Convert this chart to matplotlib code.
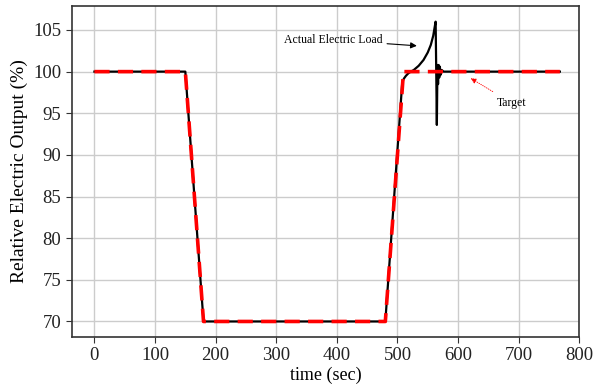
import matplotlib
matplotlib.use("Agg")
from matplotlib import pyplot as plt

# target setpoint (sec, %)
target_t = [0, 150, 180, 480, 510, 768]
target_v = [100, 100, 70, 70, 100, 100]

# actual electric load
load_t = [0, 150, 180, 480, 508, 511, 514, 518, 522, 527, 535, 543, 550, 555,
          559, 562, 563, 564, 565, 566, 567, 568, 569, 570, 571, 573, 576, 580, 768]
load_v = [100, 100, 70, 70, 98.8, 99.2, 99.5, 99.8, 100.0, 100.2, 100.7, 101.4,
          102.3, 103.2, 104.3, 105.6, 106.0, 100.0, 93.6, 100.8, 98.5, 100.8,
          99.3, 100.6, 99.6, 100.2, 100.0, 100.0, 100]

xticks = [0, 100, 200, 300, 400, 500, 600, 700, 800]
yticks = [70, 75, 80, 85, 90, 95, 100, 105]

plt.rcParams['font.family'] = ['Liberation Serif', 'DejaVu Serif']

fig = plt.figure(figsize=(5.94, 3.89), dpi=100)
ax = fig.add_axes([0.1207, 0.134, 0.8545, 0.851])

ax.plot(load_t, load_v, color="black", lw=1.6, zorder=2)
ax.plot(target_t, target_v, color="red", lw=2.6, dashes=(4.2, 2.3), zorder=3)

ax.set_xlim(-37.5, 800)
ax.set_ylim(68.15, 107.9)
ax.set_xticks(xticks)
ax.set_yticks(yticks)
ax.grid(True, color="#cccccc", lw=1)
ax.set_axisbelow(True)
ax.tick_params(labelsize=13.5, length=4, color="#333333", labelcolor="#222222")
for s in ax.spines.values():
    s.set_color("#333333")
    s.set_linewidth(1.2)

ax.set_xlabel("time (sec)", fontsize=13, labelpad=2)
ax.set_ylabel("Relative Electric Output (%)", fontsize=14)

ax.annotate("Actual Electric Load", xy=(532, 103.1), xytext=(476, 103.8),
            fontsize=8.5, ha="right", va="center",
            arrowprops=dict(arrowstyle="-|>", color="black", lw=0.8,
                            shrinkA=1, shrinkB=0, mutation_scale=9))
ax.annotate("Target", xy=(621, 99.2), xytext=(689, 96.2),
            fontsize=8.5, ha="center", va="center",
            arrowprops=dict(arrowstyle="-|>", color="red", lw=0.6, ls=":",
                            shrinkA=4, shrinkB=0, mutation_scale=8))

fig.savefig("out.png", dpi=100)
